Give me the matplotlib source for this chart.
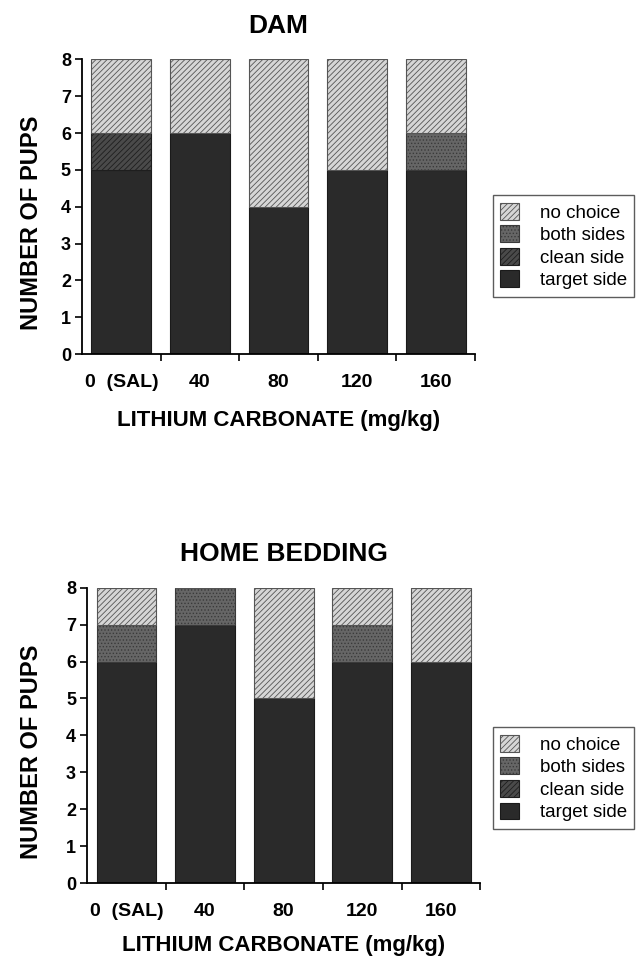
import numpy as np
import matplotlib
matplotlib.use('Agg')
import matplotlib.pyplot as plt

plt.rcParams['font.family'] = ['Liberation Sans', 'DejaVu Sans']
plt.rcParams['hatch.linewidth'] = 0.6

# doses of lithium carbonate
doses = ['0  (SAL)', '40', '80', '120', '160']
series = ['target side', 'clean side', 'both sides', 'no choice']

# DAM panel
dam_target = [5, 6, 4, 5, 5]
dam_clean = [1, 0, 0, 0, 0]
dam_both = [0, 0, 0, 0, 1]
dam_none = [2, 2, 4, 3, 2]

# HOME BEDDING panel
home_target = [6, 7, 5, 6, 6]
home_clean = [0, 0, 0, 0, 0]
home_both = [1, 1, 0, 1, 0]
home_none = [1, 0, 3, 1, 2]

styles = {
    'target side': dict(facecolor='#2a2a2a', edgecolor='#1a1a1a', hatch=None),
    'clean side': dict(facecolor='#4a4a4a', edgecolor='#1e1e1e', hatch='//////'),
    'both sides': dict(facecolor='#666666', edgecolor='#3a3a3a', hatch='.....'),
    'no choice': dict(facecolor='#d6d6d6', edgecolor='#555555', hatch='//////'),
}


def draw_panel(ax, title, data, ylab_x, xlab_pad):
    x = np.arange(len(doses))
    bottom = np.zeros(len(doses))
    handles = {}
    for name, vals in zip(series, data):
        st = styles[name]
        bars = ax.bar(x, vals, width=0.76, bottom=bottom, facecolor=st['facecolor'],
                      edgecolor=st['edgecolor'], hatch=st['hatch'], linewidth=0.8,
                      label=name)
        handles[name] = bars
        bottom += np.array(vals)
    ax.set_xlim(-0.5, 4.5)
    ax.set_ylim(0, 8)
    ax.set_yticks(range(0, 9))
    ax.set_xticks(x)
    ax.set_xticklabels(doses, fontsize=14, fontweight='bold')
    ax.set_xticks(np.arange(0.5, 5, 1), minor=True)
    ax.tick_params(axis='x', which='major', length=0, pad=14)
    ax.tick_params(axis='x', which='minor', length=5, width=1.2, direction='out')
    ax.tick_params(axis='y', length=5, width=1.2, labelsize=13, pad=3)
    for lab in ax.get_yticklabels():
        lab.set_fontweight('bold')
    for s in ['top', 'right']:
        ax.spines[s].set_visible(False)
    for s in ['left', 'bottom']:
        ax.spines[s].set_linewidth(1.3)
    ax.set_title(title, fontsize=19, fontweight='bold', pad=19)
    ax.set_ylabel('NUMBER OF PUPS', fontsize=17, fontweight='bold')
    ax.yaxis.set_label_coords(ylab_x, 0.445)
    ax.set_xlabel('LITHIUM CARBONATE (mg/kg)', fontsize=16, fontweight='bold', labelpad=xlab_pad)
    order = ['no choice', 'both sides', 'clean side', 'target side']
    return [handles[n] for n in order], order


fig = plt.figure(figsize=(6.41, 9.57), dpi=100)
ax1 = fig.add_axes([0.128, 0.630, 0.613, 0.308])
ax2 = fig.add_axes([0.136, 0.077, 0.613, 0.309])

leg_kw = dict(loc='upper left', fontsize=13.5, frameon=True, fancybox=False,
              edgecolor='#333333', handlelength=1.0, handleheight=1.0,
              handletextpad=1.1, labelspacing=0.2, borderpad=0.4, borderaxespad=0)

h, l = draw_panel(ax1, 'DAM', [dam_target, dam_clean, dam_both, dam_none], -0.100, 14)
fig.legend(h, l, bbox_to_anchor=(0.769, 0.796), **leg_kw)

h, l = draw_panel(ax2, 'HOME BEDDING', [home_target, home_clean, home_both, home_none], -0.112, 11)
fig.legend(h, l, bbox_to_anchor=(0.769, 0.240), **leg_kw)

fig.savefig('out.png', dpi=100)
